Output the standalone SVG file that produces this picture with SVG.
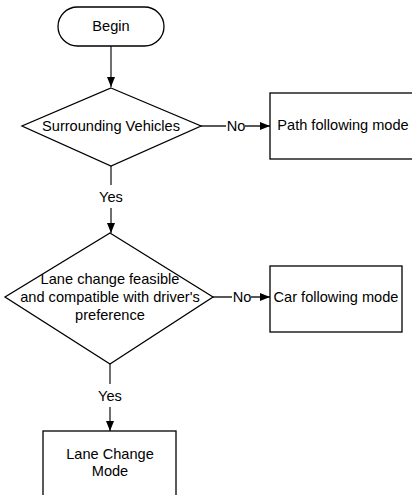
<svg xmlns="http://www.w3.org/2000/svg" width="412" height="495" viewBox="0 0 412 495">
<style>
.s{fill:#fff;stroke:#000;stroke-width:1.3}
.t{font-family:"Liberation Sans",Arial,sans-serif;font-size:14.6px;fill:#000;text-anchor:middle;dominant-baseline:central}
.c{fill:none;stroke:#222;stroke-width:1.3}
</style>
<defs>
<marker id="a" markerWidth="10" markerHeight="8" refX="10" refY="4" orient="auto" markerUnits="userSpaceOnUse">
<path d="M0,0 L10,4 L0,8 Z" fill="#000"/>
</marker>
</defs>
<rect width="412" height="495" fill="#fff"/>
<g id="connectors">
<path class="c" d="M111,46 V87" marker-end="url(#a)"/>
<path class="c" d="M201,126 H226 M245,126 H270" marker-end="url(#a)"/>
<path class="c" d="M111,166 V185 M111,208 V233" marker-end="url(#a)"/>
<path class="c" d="M213,297 H232 M251,297 H270" marker-end="url(#a)"/>
<path class="c" d="M110,364 V384 M110,407 V431" marker-end="url(#a)"/>
<text class="t" x="236" y="126">No</text>
<text class="t" x="111" y="197">Yes</text>
<text class="t" x="242" y="297">No</text>
<text class="t" x="110" y="396">Yes</text>
</g>
<g id="begin">
<rect class="s" x="58" y="7" width="106" height="39" rx="19.5"/>
<text class="t" x="111" y="26">Begin</text>
</g>
<g id="surrounding">
<polygon class="s" points="111,88 201,126 111,166 22,126"/>
<text class="t" x="111" y="126">Surrounding Vehicles</text>
</g>
<g id="path-following">
<rect class="s" x="270" y="93" width="150" height="66"/>
<text class="t" x="343" y="125">Path following mode</text>
</g>
<g id="lane-feasible">
<polygon class="s" points="110,233 213,297 110,364 5,297"/>
<text class="t" x="110" y="279">Lane change feasible</text>
<text class="t" x="110" y="297">and compatible with driver's</text>
<text class="t" x="110" y="315">preference</text>
</g>
<g id="car-following">
<rect class="s" x="270" y="266" width="132" height="66"/>
<text class="t" x="336" y="297">Car following mode</text>
</g>
<g id="lane-change">
<rect class="s" x="43" y="431" width="133" height="70"/>
<text class="t" x="110" y="454">Lane Change</text>
<text class="t" x="110" y="471">Mode</text>
</g>
</svg>
